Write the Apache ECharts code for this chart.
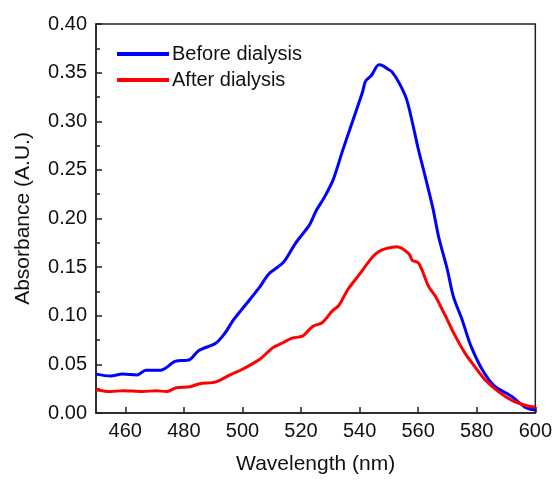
<!DOCTYPE html>
<html>
<head>
<meta charset="utf-8">
<script src="https://cdn.jsdelivr.net/npm/echarts@6/dist/echarts.min.js"></script>
<style>
html,body{margin:0;padding:0;background:#fff;}
#chart{width:555px;height:480px;}
</style>
</head>
<body>
<div id="chart"></div>
<script>
const seriesNames = ['Before dialysis', 'After dialysis'];
const blueWavelengths = [450, 455, 459, 464, 467, 472, 477, 482, 485, 491, 494, 497, 501, 506, 509, 514, 518, 523, 525, 528, 531, 534, 537.5, 541, 542, 544, 546.6, 548, 550, 551, 553.4, 556, 558, 560, 562.5, 565, 567, 570, 572, 575, 578, 582, 586, 592, 596.5, 600];
const blueValues = [0.040, 0.038, 0.040, 0.039, 0.044, 0.044, 0.053, 0.055, 0.064, 0.072, 0.082, 0.096, 0.111, 0.130, 0.143, 0.155, 0.174, 0.194, 0.207, 0.222, 0.240, 0.268, 0.299, 0.330, 0.341, 0.347, 0.358, 0.357, 0.353, 0.351, 0.340, 0.323, 0.299, 0.272, 0.242, 0.211, 0.181, 0.147, 0.120, 0.096, 0.069, 0.044, 0.028, 0.017, 0.006, 0.003];
const redWavelengths = [450, 455, 459, 466, 470.6, 474, 477.4, 482, 485.4, 491, 495.6, 500, 505.8, 510.3, 513, 517, 520.5, 524, 527.3, 530.7, 533, 536, 539.8, 544.3, 546.6, 549, 552.8, 556.8, 558, 560.2, 563.6, 565.9, 567.6, 569.3, 572.7, 576.1, 579.5, 582.9, 587.4, 592, 596.5, 600];
const redValues = [0.024, 0.022, 0.023, 0.022, 0.023, 0.022, 0.026, 0.027, 0.030, 0.032, 0.039, 0.045, 0.055, 0.067, 0.071, 0.077, 0.079, 0.089, 0.093, 0.105, 0.111, 0.127, 0.142, 0.160, 0.166, 0.169, 0.171, 0.164, 0.157, 0.154, 0.130, 0.120, 0.110, 0.100, 0.079, 0.061, 0.047, 0.034, 0.022, 0.013, 0.008, 0.006];
const xTicks = [460, 480, 500, 520, 540, 560, 580, 600];
const yTicks = [0.00, 0.05, 0.10, 0.15, 0.20, 0.25, 0.30, 0.35, 0.40];

const pairs = (xs, ys) => xs.map((x, i) => [x, ys[i]]);
const font = '"Liberation Sans", Arial, sans-serif';
const chart = echarts.init(document.getElementById('chart'), null, {renderer: 'canvas'});
chart.setOption({
  backgroundColor: '#ffffff',
  animation: false,
  grid: {left: 96, right: 18, top: 24, bottom: 62, show: true, borderColor: '#222', borderWidth: 1.5, backgroundColor: 'transparent'},
  legend: {
    orient: 'vertical', left: 112, top: 39, itemGap: 6,
    icon: 'rect', itemWidth: 52, itemHeight: 4,
    textStyle: {fontFamily: font, fontSize: 20, color: '#111', padding: [0, 0, 0, -2]},
    data: seriesNames
  },
  xAxis: {
    type: 'value', min: 450, max: 600, interval: 20,
    name: 'Wavelength (nm)', nameLocation: 'middle', nameGap: 41,
    nameTextStyle: {fontFamily: font, fontSize: 21, color: '#111'},
    axisLine: {onZero: false, lineStyle: {color: '#222', width: 1.5}},
    axisTick: {inside: true, length: 6, lineStyle: {color: '#222', width: 1.5}, customValues: xTicks},
    minorTick: {show: true, splitNumber: 2, length: 4, lineStyle: {color: '#222', width: 1.5}},
    axisLabel: {fontFamily: font, fontSize: 20, color: '#111', margin: 8, customValues: xTicks},
    splitLine: {show: false}
  },
  yAxis: {
    type: 'value', min: 0, max: 0.4, interval: 0.05,
    name: 'Absorbance (A.U.)', nameLocation: 'middle', nameGap: 62,
    nameTextStyle: {fontFamily: font, fontSize: 21, color: '#111'},
    axisLine: {onZero: false, lineStyle: {color: '#222', width: 1.5}},
    axisTick: {inside: true, length: 6, lineStyle: {color: '#222', width: 1.5}},
    minorTick: {show: true, splitNumber: 2, length: 4, lineStyle: {color: '#222', width: 1.5}},
    axisLabel: {fontFamily: font, fontSize: 20, color: '#111', margin: 9, formatter: v => v.toFixed(2)},
    splitLine: {show: false}
  },
  series: [
    {name: seriesNames[0], type: 'line', data: pairs(blueWavelengths, blueValues), showSymbol: false, smooth: 0.3,
     lineStyle: {color: '#0000ff', width: 3}, itemStyle: {color: '#0000ff'}},
    {name: seriesNames[1], type: 'line', data: pairs(redWavelengths, redValues), showSymbol: false, smooth: 0.3,
     lineStyle: {color: '#ff0000', width: 3}, itemStyle: {color: '#ff0000'}}
  ]
});
</script>
</body>
</html>
